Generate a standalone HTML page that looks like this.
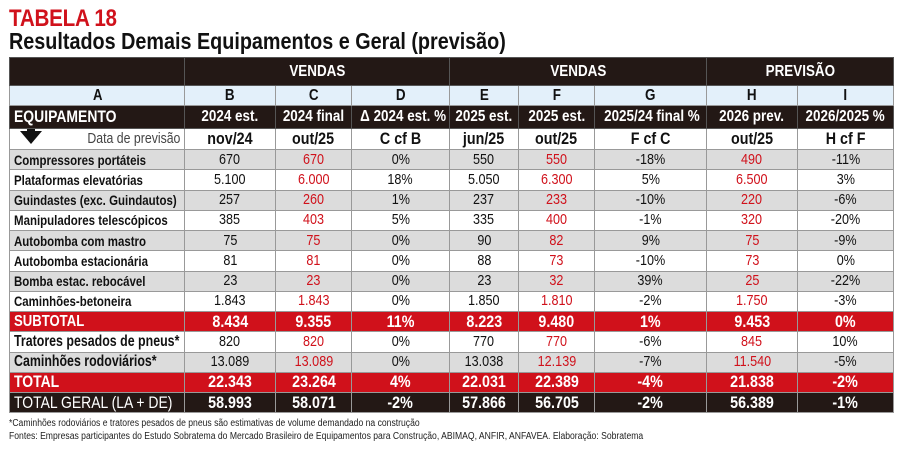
<!DOCTYPE html>
<html><head><meta charset="utf-8"><style>
body{margin:0;width:900px;height:453px;background:#fff;font-family:"Liberation Sans",sans-serif;overflow:hidden;position:relative}
.t1{position:absolute;left:9px;top:5px;font-weight:bold;color:#d0111b;font-size:24px;transform:scaleX(.86);transform-origin:0 0;letter-spacing:-.3px}
.t2{position:absolute;left:9px;top:28px;font-weight:bold;color:#111;font-size:23px;transform:scaleX(.86);transform-origin:0 0;white-space:nowrap}
table{position:absolute;left:9px;top:57px;border-collapse:collapse;table-layout:fixed;width:884px}
td{border:1px solid #999;padding:0;text-align:center;font-size:15px;color:#111;height:19.25px;line-height:16px;white-space:nowrap;overflow:hidden}
td span{display:inline-block;transform:scaleX(.84);transform-origin:50% 50%}
td:first-child{text-align:left;padding-left:4px;font-weight:bold;font-size:14px}
td:first-child span{transform-origin:0 50%;transform:scaleX(.82)}
td.w span{transform:scaleX(.8)}
.h1 td{background:#231815;color:#fff;font-weight:bold;height:27px;font-size:16px;border-color:#555}
.h2 td{background:#e3f0fa;font-weight:bold;height:19px;font-size:16px}
.h3 td{background:#231815;color:#fff;font-weight:bold;height:22px;font-size:16px;border-color:#555}
.h3 td:first-child{font-size:17px}
.h4 td{font-weight:bold;font-size:17px;height:20px}
.g td{background:#dcdcdc}
.r{color:#d0111b}
.s td{background:#d0111b;color:#fff;font-weight:bold;font-size:17px}
.k td{background:#231815;color:#fff;font-weight:bold;font-size:17px}
.k td:first-child{font-weight:normal;font-size:17px}
.s td:first-child{font-size:17px}
.f{position:absolute;left:9px;font-size:10px;color:#222;transform:scaleX(.86);transform-origin:0 0;white-space:nowrap}
</style></head><body>
<div class="t1">TABELA 18</div>
<div class="t2">Resultados Demais Equipamentos e Geral (previsão)</div>
<table>
<colgroup><col style="width:175px"><col style="width:91px"><col style="width:76px"><col style="width:98px"><col style="width:69px"><col style="width:76px"><col style="width:112px"><col style="width:91px"><col style="width:96px"></colgroup>
<tr class="h1"><td></td><td colspan="3">VENDAS</td><td colspan="3">VENDAS</td><td colspan="2">PREVISÃO</td></tr>
<tr class="h2"><td style="text-align:center;font-size:16px">A</td><td>B</td><td>C</td><td>D</td><td>E</td><td>F</td><td>G</td><td>H</td><td>I</td></tr>
<tr class="h3"><td>EQUIPAMENTO</td><td>2024 est.</td><td>2024 final</td><td>Δ 2024 est. %</td><td>2025 est.</td><td>2025 est.</td><td>2025/24 final %</td><td>2026 prev.</td><td>2026/2025 %</td></tr>
<tr class="h4"><td style="font-weight:normal;font-size:15px;color:#444;position:relative"><i style="position:absolute;left:10px;top:2px;width:0;height:0;border-left:11px solid transparent;border-right:11px solid transparent;border-top:13px solid #111"></i><i style="position:absolute;left:17px;top:-3px;width:8px;height:6px;background:#111"></i><span style="position:absolute;right:4px;top:2px;transform-origin:100% 50%">Data de previsão</span></td><td>nov/24</td><td>out/25</td><td>C cf B</td><td>jun/25</td><td>out/25</td><td>F cf C</td><td>out/25</td><td>H cf F</td></tr>
<tr class="g"><td>Compressores portáteis</td><td>670</td><td class="r">670</td><td>0%</td><td>550</td><td class="r">550</td><td>-18%</td><td class="r">490</td><td>-11%</td></tr>
<tr><td>Plataformas elevatórias</td><td>5.100</td><td class="r">6.000</td><td>18%</td><td>5.050</td><td class="r">6.300</td><td>5%</td><td class="r">6.500</td><td>3%</td></tr>
<tr class="g"><td>Guindastes (exc. Guindautos)</td><td>257</td><td class="r">260</td><td>1%</td><td>237</td><td class="r">233</td><td>-10%</td><td class="r">220</td><td>-6%</td></tr>
<tr><td>Manipuladores telescópicos</td><td>385</td><td class="r">403</td><td>5%</td><td>335</td><td class="r">400</td><td>-1%</td><td class="r">320</td><td>-20%</td></tr>
<tr class="g"><td>Autobomba com mastro</td><td>75</td><td class="r">75</td><td>0%</td><td>90</td><td class="r">82</td><td>9%</td><td class="r">75</td><td>-9%</td></tr>
<tr><td>Autobomba estacionária</td><td>81</td><td class="r">81</td><td>0%</td><td>88</td><td class="r">73</td><td>-10%</td><td class="r">73</td><td>0%</td></tr>
<tr class="g"><td>Bomba estac. rebocável</td><td>23</td><td class="r">23</td><td>0%</td><td>23</td><td class="r">32</td><td>39%</td><td class="r">25</td><td>-22%</td></tr>
<tr><td>Caminhões-betoneira</td><td>1.843</td><td class="r">1.843</td><td>0%</td><td>1.850</td><td class="r">1.810</td><td>-2%</td><td class="r">1.750</td><td>-3%</td></tr>
<tr class="s"><td style="font-size:16px">SUBTOTAL</td><td>8.434</td><td>9.355</td><td>11%</td><td>8.223</td><td>9.480</td><td>1%</td><td>9.453</td><td>0%</td></tr>
<tr><td class="w" style="font-size:15.5px">Tratores pesados de pneus*</td><td>820</td><td class="r">820</td><td>0%</td><td>770</td><td class="r">770</td><td>-6%</td><td class="r">845</td><td>10%</td></tr>
<tr class="g"><td class="w" style="font-size:15.5px">Caminhões rodoviários*</td><td>13.089</td><td class="r">13.089</td><td>0%</td><td>13.038</td><td class="r">12.139</td><td>-7%</td><td class="r">11.540</td><td>-5%</td></tr>
<tr class="s"><td>TOTAL</td><td>22.343</td><td>23.264</td><td>4%</td><td>22.031</td><td>22.389</td><td>-4%</td><td>21.838</td><td>-2%</td></tr>
<tr class="k"><td>TOTAL GERAL (LA + DE)</td><td>58.993</td><td>58.071</td><td>-2%</td><td>57.866</td><td>56.705</td><td>-2%</td><td>56.389</td><td>-1%</td></tr>
</table>
<div class="f" style="top:418px">*Caminhões rodoviários e tratores pesados de pneus são estimativas de volume demandado na construção</div>
<div class="f" style="top:431px">Fontes: Empresas participantes do Estudo Sobratema do Mercado Brasileiro de Equipamentos para Construção, ABIMAQ, ANFIR, ANFAVEA. Elaboração: Sobratema</div>
<script>
document.querySelectorAll('td').forEach(function(td){if(!td.querySelector('span')&&td.textContent.trim())td.innerHTML='<span>'+td.innerHTML+'</span>';});
</script>
</body></html>
